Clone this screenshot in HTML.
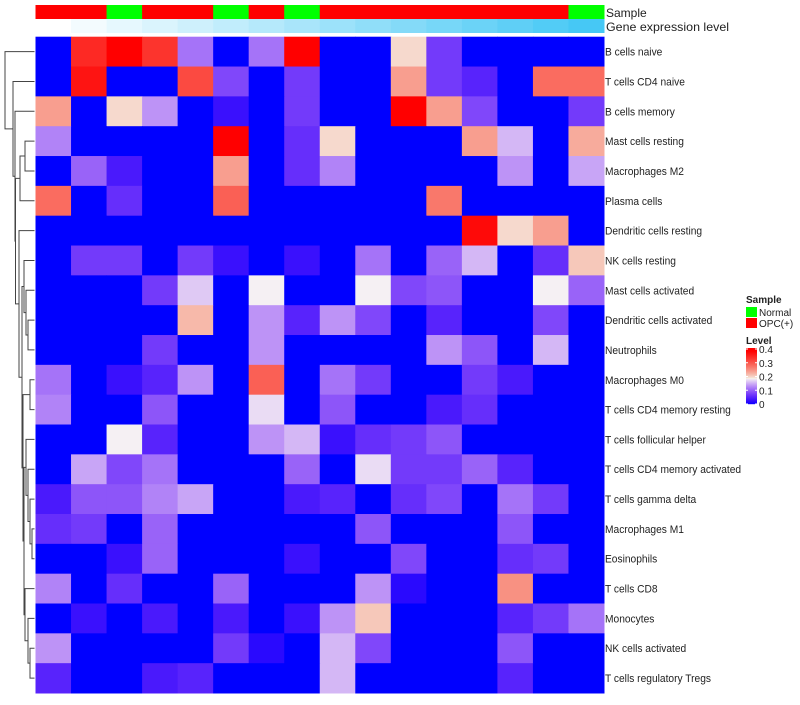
<!DOCTYPE html>
<html><head><meta charset="utf-8"><style>
body{margin:0;background:#fff;font-family:"Liberation Sans",sans-serif;}
svg text{font-family:"Liberation Sans",sans-serif;}
</style></head><body>
<svg id="chart" width="800" height="700" xmlns="http://www.w3.org/2000/svg"></svg>
<script>
const rowLabels=["B cells naive","T cells CD4 naive","B cells memory","Mast cells resting","Macrophages M2","Plasma cells","Dendritic cells resting","NK cells resting","Mast cells activated","Dendritic cells activated","Neutrophils","Macrophages M0","T cells CD4 memory resting","T cells follicular helper","T cells CD4 memory activated","T cells gamma delta","Macrophages M1","Eosinophils","T cells CD8","Monocytes","NK cells activated","T cells regulatory  Tregs"];
const sampleGroups=["OPC","OPC","Normal","OPC","OPC","Normal","OPC","Normal","OPC","OPC","OPC","OPC","OPC","OPC","OPC","Normal"];
const expressionLevel=[0,1,2,3,4,5,6,7,8,9,10,11,12,13,14,15];
const values=[
[0,.33,.38,.32,.11,0,.11,.38,0,0,.19,.07,0,0,0,0],
[0,.35,0,0,.30,.08,0,.07,0,0,.23,.07,.05,0,.27,.27],
[.23,0,.19,.13,0,.03,0,.07,0,0,.38,.23,.08,0,0,.07],
[.12,0,0,0,0,.38,0,.06,.19,0,0,0,.23,.15,0,.22],
[0,.10,.04,0,0,.23,0,.06,.12,0,0,0,0,.13,0,.14],
[.27,0,.06,0,0,.28,0,0,0,0,0,.26,0,0,0,0],
[0,0,0,0,0,0,0,0,0,0,0,0,.36,.19,.23,0],
[0,.07,.07,0,.07,.03,0,.03,0,.11,0,.10,.15,0,.06,.20],
[0,0,0,.07,.16,0,.18,0,0,.18,.08,.09,0,0,.18,.10],
[0,0,0,0,.21,0,.13,.05,.13,.08,0,.05,0,0,.08,0],
[0,0,0,.07,0,0,.13,0,0,0,0,.13,.09,0,.15,0],
[.11,0,.03,.05,.13,0,.28,0,.11,.07,0,0,.07,.04,0,0],
[.12,0,0,.09,0,0,.17,0,.09,0,0,.04,.06,0,0,0],
[0,0,.18,.05,0,0,.13,.15,.03,.06,.07,.09,0,0,0,0],
[0,.14,.08,.11,0,0,0,.10,0,.17,.07,.07,.10,.05,0,0],
[.04,.09,.09,.12,.14,0,0,.04,.05,0,.06,.08,0,.11,.07,0],
[.06,.07,0,.10,0,0,0,0,0,.09,0,0,0,.09,0,0],
[0,0,.03,.10,0,0,0,.03,0,0,.08,0,0,.06,.07,0],
[.12,0,.06,0,0,.10,0,0,0,.13,.02,0,0,.24,0,0],
[0,.03,0,.04,0,.04,0,.03,.13,.20,0,0,0,.05,.07,.11],
[.13,0,0,0,0,.07,.02,0,.15,.08,0,0,0,.09,0,0],
[.05,0,0,.04,.05,0,0,0,.15,0,0,0,0,.05,0,0]];
const legendTicks=[0,0.1,0.2,0.3,0.4];

const svg=document.getElementById('chart');
const NS='http://www.w3.org/2000/svg';
function mk(tag,attrs,parent){const e=document.createElementNS(NS,tag);for(const k in attrs)e.setAttribute(k,attrs[k]);(parent||svg).appendChild(e);return e;}
const X0=35.5,X1=604,Y0=36.7,Y1=693;
const nC=values[0].length,nR=values.length;
const cw=(X1-X0)/nC,rh=(Y1-Y0)/nR;
const xOf=c=>X0+c*cw, yOf=r=>Y0+r*rh;
const VMAX=0.4,VMID=0.18;
function mix(a,b,t){return a.map((v,i)=>Math.round(v+(b[i]-v)*t));}
function colorOf(v){
  let R,G,B;
  if(v<=VMID){const t=Math.max(0,v/VMID);R=245*Math.pow(t,0.8);G=240*Math.pow(t,1.5);B=255-12*t;}
  else{const t=Math.min(1,(v-VMID)/(0.37-VMID));R=245+10*t;G=240*(1-Math.pow(t,0.8));B=235*(1-Math.pow(t,0.7));}
  return `rgb(${Math.round(R)},${Math.round(G)},${Math.round(B)})`;
}
sampleGroups.forEach((g,c)=>{
  const r=mk('rect',{x:xOf(c),y:5,width:cw+0.5,height:14,fill:g==="Normal"?"#00ff00":"#ff0000"});
  
  
});
expressionLevel.forEach((l,c)=>{
  const t=l/15;const col=mix([255,255,255],[70,200,245],t);
  const r=mk('rect',{x:xOf(c),y:19,width:cw+0.5,height:14,fill:`rgb(${col})`});
  
  
});
let t1=mk('text',{x:X1+2,y:17,'font-size':12,fill:'#222'});t1.textContent='Sample';

let t2=mk('text',{x:X1+2,y:31,'font-size':12,fill:'#222',textLength:123,lengthAdjust:'spacingAndGlyphs'});t2.textContent='Gene expression level';

values.forEach((row,r)=>row.forEach((v,c)=>{
  const e=mk('rect',{x:xOf(c),y:yOf(r),width:cw+0.5,height:rh+0.5,fill:colorOf(v)});
  
  
}));
rowLabels.forEach((l,r)=>{
  const e=mk('text',{x:X1+1,y:yOf(r)+rh/2+4,'font-size':11,fill:'#222',transform:`translate(${X1+1},0) scale(0.93,1) translate(${-(X1+1)},0)`});e.textContent=l;
  
  
});
const tree=[5,0,[13,1,[15,2,[15.5,[20,[25,3,4],5],[19,6,[22,[24,7,[26,8,[28,9,10]]],[23,[30,11,12],[24,[26,13,[28,14,[30,15,[32,16,17]]]],[25,18,[28,19,[30,20,21]]]]]]]]]]];
function dend(n){
  if(typeof n==='number')return {x:X0-1,y:yOf(n)+rh/2};
  const a=dend(n[1]),b=dend(n[2]);const x=n[0];
  const p=mk('path',{d:`M${a.x},${a.y}H${x}V${b.y}H${b.x}`,fill:'none',stroke:'#444','stroke-width':1});
  
  
  return {x:x,y:(a.y+b.y)/2};
}
dend(tree);
const lg=mk('g',{});

let lt=mk('text',{x:746,y:303,'font-size':10,'font-weight':'bold',fill:'#222'},lg);lt.textContent='Sample';
[["Normal","#00ff00"],["OPC(+)","#ff0000"]].forEach((s,i)=>{
  const r=mk('rect',{x:746,y:307+i*11,width:11,height:10,fill:s[1]},lg);
  
  
  const t=mk('text',{x:759,y:316+i*11,'font-size':10,fill:'#222'},lg);t.textContent=s[0];
});
let lv=mk('text',{x:746,y:344,'font-size':10,'font-weight':'bold',fill:'#222'},lg);lv.textContent='Level';
const LT=348,LB=404;
for(let i=0;i<56;i++){
  const v=VMAX*(1-i/56);
  mk('rect',{x:746,y:LT+i,width:11,height:1.2,fill:colorOf(v*0.97)},lg);
}
legendTicks.forEach(v=>{
  const y=LB-(v/VMAX)*(LB-LT-1);
  mk('line',{x1:746,x2:748,y1:y,y2:y,stroke:'#fff'},lg);
  mk('line',{x1:755,x2:757,y1:y,y2:y,stroke:'#fff'},lg);
  const t=mk('text',{x:759,y:y+4,'font-size':10,fill:'#222'},lg);t.textContent=String(v);
  
  
});
</script>
</body></html>
